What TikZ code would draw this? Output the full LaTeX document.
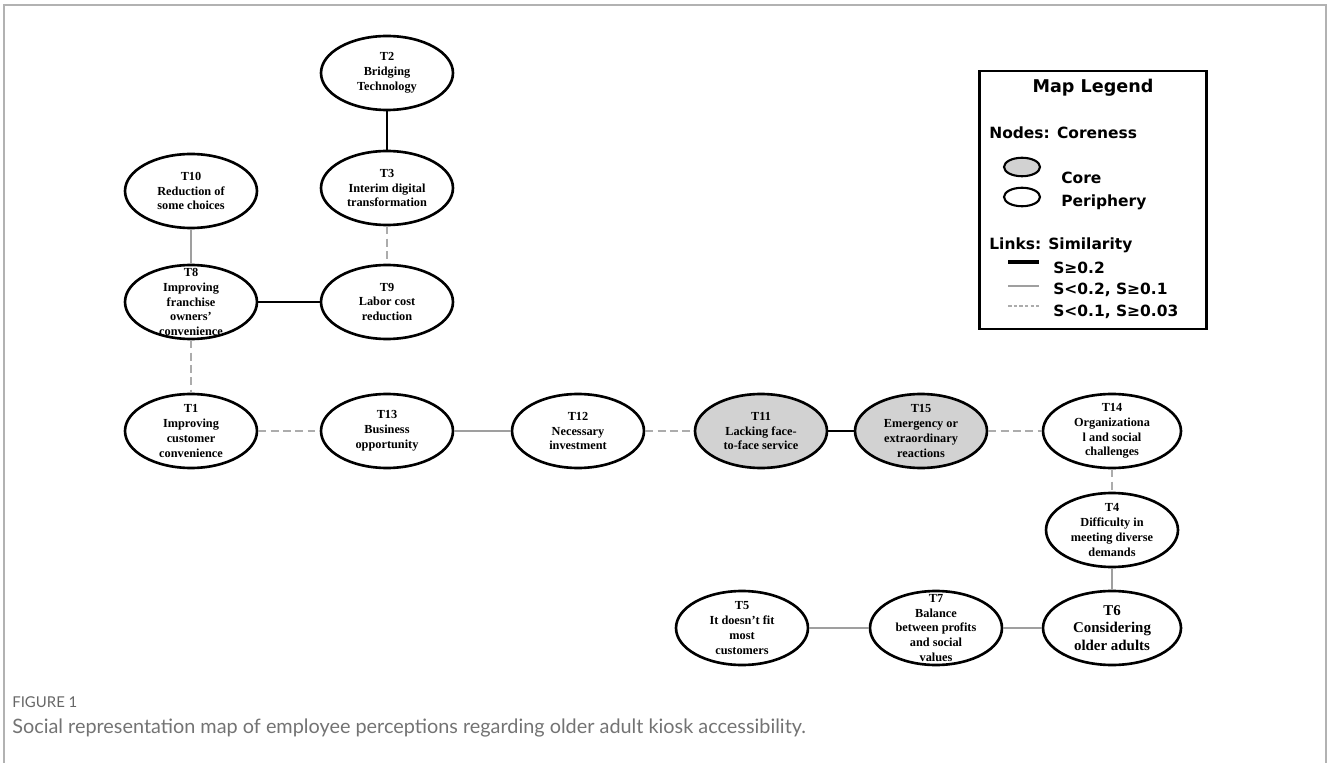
\documentclass[tikz,border=0pt]{standalone}
\usepackage{fontspec}
\setmainfont{Liberation Serif}
\newfontfamily\legendfont{DejaVu Sans}
\newfontfamily\captionfont{Lato}
\usetikzlibrary{shapes.geometric}

\begin{document}
\begin{tikzpicture}[
    x=0.02cm, y=-0.02cm,
    font=\bfseries\fontsize{7}{8.4}\selectfont,
    topic/.style={
        ellipse,
        draw=black,
        line width=1.5pt,
        minimum width=2.64cm,
        minimum height=1.48cm,
        inner xsep=-16pt,
        inner ysep=-16pt,
        align=center,
        fill=white
    },
    coretopic/.style={topic, fill=gray!35},
    keyshape/.style={
        ellipse,
        draw=black,
        line width=1.2pt,
        minimum width=0.72cm,
        minimum height=0.37cm,
        inner sep=0pt
    },
    legendtext/.style={
        anchor=west,
        inner sep=0pt,
        font=\legendfont\bfseries\fontsize{8.8}{10.5}\selectfont
    },
    strong/.style={line width=1.5pt, draw=black},
    medium/.style={line width=1.4pt, draw=gray!75},
    weak/.style={line width=1.4pt, draw=gray!65, dash pattern=on 4.5pt off 2.5pt}
]
\useasboundingbox (0,0) rectangle (1328,763);

% page frame
\draw[gray!60, line width=1.1pt] (4,763) -- (4,5) -- (1326,5) -- (1326,763);

% topics
\node[topic] (t2) at (387,73) {T2\\Bridging\\Technology};
\node[topic] (t3) at (387,188) {T3\\Interim digital\\transformation};
\node[topic] (t10) at (191,191) {T10\\Reduction of\\some choices};
\node[topic] (t8) at (191,302) {T8\\Improving\\franchise\\owners’\\convenience};
\node[topic] (t9) at (387,302) {T9\\Labor cost\\reduction};
\node[topic] (t1) at (191,431) {T1\\Improving\\customer\\convenience};
\node[topic] (t13) at (387,431) {T13\\Business\\opportunity};
\node[topic] (t12) at (578,431) {T12\\Necessary\\investment};
\node[coretopic] (t11) at (761,431) {T11\\Lacking face-\\to-face service};
\node[coretopic] (t15) at (921,431) {T15\\Emergency or\\extraordinary\\reactions};
\node[topic, minimum width=2.76cm] (t14) at (1112,431) {T14\\Organizationa\\l and social\\challenges};
\node[topic] (t4) at (1112,530) {T4\\Difficulty in\\meeting diverse\\demands};
\node[topic, minimum width=2.76cm, font=\bfseries\fontsize{8.5}{10}\selectfont] (t6) at (1112,628) {T6\\Considering\\older adults};
\node[topic] (t7) at (936,628) {T7\\Balance\\between profits\\and social\\values};
\node[topic] (t5) at (742,628) {T5\\It doesn’t fit\\most\\customers};

% links
\draw[strong] (t2) -- (t3);
\draw[weak] (t3) -- (t9);
\draw[medium] (t10) -- (t8);
\draw[strong] (t8) -- (t9);
\draw[weak] (t8) -- (t1);
\draw[weak] (t1) -- (t13);
\draw[medium] (t13) -- (t12);
\draw[weak] (t12) -- (t11);
\draw[strong] (t11) -- (t15);
\draw[weak] (t15) -- (t14);
\draw[weak] (t14) -- (t4);
\draw[medium] (t4) -- (t6);
\draw[medium] (t6) -- (t7);
\draw[medium] (t7) -- (t5);

% legend
\node[draw=black, line width=1.5pt, minimum width=4.54cm, minimum height=5.16cm] (legend) at (1093,200) {};
\node[font=\legendfont\bfseries\fontsize{10}{12}\selectfont] (legendtitle) at (1093,88) {Map Legend};
\node[legendtext] (nodeshead) at (989,133) {Nodes: Coreness};
\node[keyshape, fill=gray!35] (corekey) at (1022,167) {};
\node[keyshape] (perikey) at (1022,197) {};
\node[legendtext] (corelabel) at (1061,178) {Core};
\node[legendtext] (perilabel) at (1061,202) {Periphery};
\node[legendtext] (linkshead) at (989,245) {Links: Similarity};
\draw[black, line width=2.2pt] (1008,262) -- (1039,262);
\draw[gray!75, line width=0.8pt] (1008,286) -- (1039,286);
\draw[gray!65, line width=0.8pt, dash pattern=on 2pt off 1.2pt] (1008,306) -- (1039,306);
\node[legendtext] (strongkey) at (1053,268) {S≥0.2};
\node[legendtext] (mediumkey) at (1053,290) {S<0.2, S≥0.1};
\node[legendtext] (weakkey) at (1053,312) {S<0.1, S≥0.03};

% caption
\node[anchor=west, inner sep=0pt, text=gray!80!black, font=\captionfont\fontsize{8.5}{10}\selectfont] (figlabel) at (12,702) {FIGURE 1};
\node[anchor=west, inner sep=0pt, text=gray!90!black, font=\captionfont\fontsize{11.3}{13}\selectfont] (figcaption) at (12,728) {Social representation map of employee perceptions regarding older adult kiosk accessibility.};

\end{tikzpicture}
\end{document}
